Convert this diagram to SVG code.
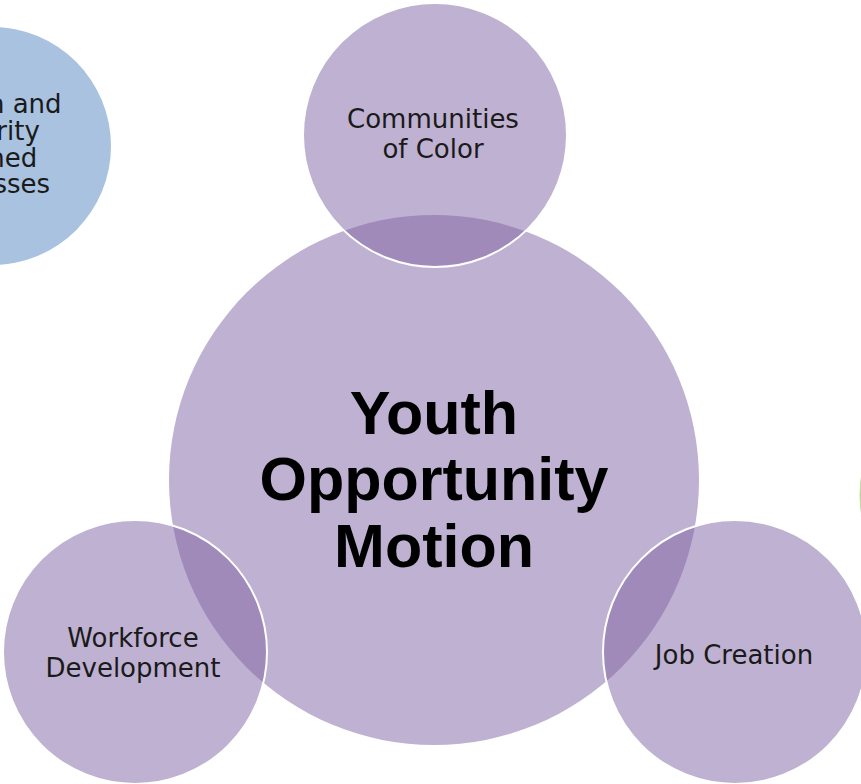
<svg xmlns="http://www.w3.org/2000/svg" width="861" height="784" viewBox="0 0 861 784">
<style>
.p{fill:#7F63A3;fill-opacity:0.5}
.s{stroke:#FFFFFF;stroke-width:2}
.t{font-family:"DejaVu Sans","Liberation Sans",sans-serif;font-size:26px;fill:#1A1A1A;text-anchor:middle}
.m{font-family:"Liberation Sans",Arial,sans-serif;font-size:61px;font-weight:bold;fill:#000000;text-anchor:middle}
</style>
<rect width="861" height="784" fill="#FFFFFF"/>
<g id="women-minority-owned">
<circle cx="-8" cy="146" r="119" fill="#A8C2DF"/>
<text class="t"><tspan x="-16" y="113">Women and</tspan><tspan x="-13" y="140">Minority</tspan><tspan x="-8" y="167">Owned</tspan><tspan x="-22" y="193">Businesses</tspan></text>
</g>
<g id="green-partial">
<circle cx="986" cy="495" r="127" fill="#C4D89E" stroke="#FFFFFF" stroke-width="1"/>
</g>
<g id="youth-opportunity-motion">
<circle class="p" cx="434" cy="480" r="265"/>
<text class="m"><tspan x="434" y="434">Youth</tspan><tspan x="434" y="500">Opportunity</tspan><tspan x="434" y="567">Motion</tspan></text>
</g>
<g id="connectors"></g>
<g id="communities-of-color">
<circle class="p s" cx="435" cy="135" r="132"/>
<text class="t"><tspan x="433" y="128">Communities</tspan><tspan x="433" y="158">of Color</tspan></text>
</g>
<g id="workforce-development">
<circle class="p s" cx="135" cy="652" r="132"/>
<text class="t"><tspan x="133" y="647">Workforce</tspan><tspan x="133" y="677">Development</tspan></text>
</g>
<g id="job-creation">
<circle class="p s" cx="735" cy="652" r="132"/>
<text class="t"><tspan x="734" y="664">Job Creation</tspan></text>
</g>
</svg>
